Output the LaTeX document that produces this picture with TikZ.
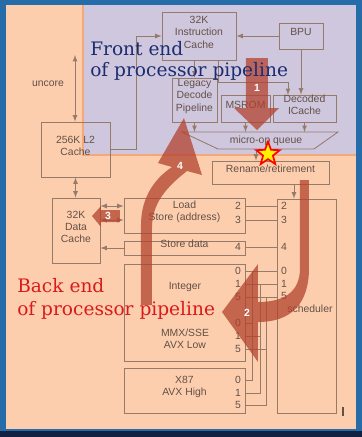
\documentclass[tikz,border=0pt]{standalone}
\usepackage{fontspec}
\setmainfont{Liberation Sans}
\newfontfamily\serifbig{DejaVu Serif}
\usetikzlibrary{shapes.geometric,fit}
\definecolor{peach}{RGB}{252,206,174}
\definecolor{lavender}{RGB}{207,199,222}
\definecolor{frameblue}{RGB}{38,108,168}
\definecolor{navy}{RGB}{18,32,66}
\definecolor{boxline}{RGB}{150,122,106}
\definecolor{boxtext}{RGB}{100,80,70}
\definecolor{bigred}{RGB}{178,66,46}
\definecolor{frontblue}{RGB}{28,44,112}
\definecolor{backred}{RGB}{218,26,26}
\definecolor{edgeorange}{RGB}{244,168,122}
\tikzset{
  unit/.style={draw=boxline, line width=0.6pt, inner sep=0pt, align=center, text=boxtext, font=\fontsize{7.4}{8.6}\selectfont},
  port/.style={inner sep=0pt, align=center, text=boxtext, font=\fontsize{7.4}{8.6}\selectfont},
  wire/.style={draw=boxline, line width=0.6pt},
  bigarrow/.style={fill=bigred, fill opacity=0.75, draw=none},
  stagenum/.style={text=white, font=\bfseries\fontsize{7.4}{8.6}\selectfont, inner sep=0pt},
  stagetitle/.style={font=\serifbig\fontsize{13.2}{15}\selectfont, inner sep=0pt, anchor=base west},
}
\begin{document}
\begin{tikzpicture}[x=0.025cm, y=-0.025cm]
            \useasboundingbox (0,0) rectangle (362,437);
            % Draw the slide frame and the two regions
            \fill[frameblue] (0,0) rectangle (362,437);
            \fill[peach] (6,5) rectangle (356,429);
            \fill[navy] (0,431) rectangle (362,437);
            \fill[lavender] (83,5) rectangle (356,155);
            \draw[edgeorange, line width=0.8pt] (83,5) -- (83,155) -- (356,155);
            % Draw front end units
            \node[unit, fit={(162,12) (236,60)}] (icache) {32K\\Instruction\\Cache};
            \node[unit, fit={(279,23) (323,49)}] (bpu) {BPU};
            \node[unit, fit={(172,78) (217,122)}] (legacy) {Legacy\\Decode\\Pipeline};
            \node[unit, fit={(221,95) (270,122)}] (msrom) {MSROM};
            \node[unit, fit={(273,95) (336,122)}] (dic) {Decoded\\ICache};
            % Draw the micro-op queue
            \coordinate (qtl) at (182,132);
            \coordinate (qtr) at (338,132);
            \coordinate (qbr) at (314,149);
            \coordinate (qbl) at (218,149);
            \draw[wire] (qtl) -- (qtr) -- (qbr) -- (qbl) -- cycle;
            \node[port] (queue) at (266,141) {micro-op queue};
            % Draw caches and back end units
            \node[unit, fit={(41,122) (110,177)}] (l2) {256K L2\\Cache};
            \node[unit, fit={(52,198) (100,263)}] (dcache) {32K\\Data\\Cache};
            \node[unit, fit={(212,161) (329,184)}] (rename) {Rename/retirement};
            \node[unit, fit={(124,198) (245,233)}] (ldst) {Load\\Store (address)};
            \node[unit, fit={(124,241) (245,255)}] (stdata) {Store data};
            \node[unit, fit={(124,264) (245,361)}] (exec) {};
            \node[port] (intlbl) at (185,287) {Integer};
            \node[port] (veclbl) at (185,339) {MMX/SSE\\AVX Low};
            \node[unit, fit={(124,368) (245,413)}] (x87) {X87\\AVX High};
            \node[unit, fit={(277,199) (336,413)}] (sched) {};
            \node[port] (schedlbl) at (310,309) {scheduler};
            \node[port] (uncore) at (48,84) {uncore};
            % Draw port numbers
            \foreach \p/\y in {2/206,3/220} \node[port] (ld\p) at (238,\y) {\p};
            \node[port] (sd4) at (238,247) {4};
            \foreach \p/\y in {0/271,1/284,5/297} \node[port] (int\p) at (238,\y) {\p};
            \foreach \p/\y in {0/323,1/336,5/349} \node[port] (vec\p) at (238,\y) {\p};
            \foreach \p/\y in {0/380,1/393,5/405} \node[port] (fp\p) at (238,\y) {\p};
            \foreach \p/\y in {2/206,3/220,4/247,0/271,1/284,5/296} \node[port] (sch\p) at (284,\y) {\p};
            % Draw front end connections
            \coordinate (uncoretop) at (75,55);
            \coordinate (l2bus) at (136,0);
            \coordinate (fillsrc) at (218,60);
            \coordinate (filldst) at (288,95);
            \draw[wire, latex-latex] (uncoretop) -- (uncoretop |- l2.north);
            \draw[wire, -latex] (l2.east) -- (l2.east -| l2bus) -- (l2bus |- icache.west) -- (icache.west);
            \draw[wire, -latex] (bpu.west) -- (icache.east);
            \draw[wire, -latex] (bpu.south) -- (bpu.south |- dic.north);
            \draw[wire, -latex] (legacy.north |- icache.south) -- (legacy.north);
            \draw[wire, -latex] (fillsrc) -- ++(0,22) -| (filldst);
            \foreach \u in {legacy,msrom,dic} \draw[wire, -latex] (\u.south) -- (\u.south |- qtl);
            \coordinate (qout) at (256,149);
            \draw[wire, -latex] (qout) -- (qout |- rename.north);
            % Draw back end connections
            \coordinate (rs) at (294,184);
            \draw[wire, -latex] (rs) -- (rs |- sched.north);
            \draw[wire, latex-latex] (l2.south) -- (l2.south |- dcache.north);
            \foreach \p in {2,3} \draw[wire, latex-latex] (dcache.east |- ld\p) -- (ldst.west |- ld\p);
            \draw[wire, -latex] (stdata.west) -- (dcache.east |- stdata.west);
            \foreach \p in {2,3} \draw[wire] (ldst.east |- ld\p) -- (sched.west |- ld\p);
            \draw[wire] (stdata.east |- sd4) -- (sched.west |- sd4);
            \foreach \p in {0,1,5} \draw[wire] (exec.east |- int\p) -- (sched.west |- int\p);
            \coordinate (bus0) at (252,0);
            \coordinate (bus1) at (260,0);
            \coordinate (bus5) at (266,0);
            \foreach \p in {0,1,5} {
              \draw[wire] (exec.east |- vec\p) -- (bus\p |- vec\p);
              \draw[wire] (x87.east |- fp\p) -- (bus\p |- fp\p) -- (bus\p |- int\p);
            }
            \coordinate (tick) at (343,407);
            \draw[boxtext, line width=0.8pt] (tick) -- ++(0,9);
            % Draw the numbered stage arrows
            \fill[bigarrow] (246,58) -- (268,58) -- (268,108) -- (279,108) -- (257,130) -- (234,108) -- (246,108) -- cycle;
            \fill[bigarrow] (300,180) -- (309,180) -- (309,268) .. controls (309,305) and (290,322) .. (258,322) -- (258,362) -- (222,312) -- (258,264) -- (258,302) .. controls (284,302) and (300,292) .. (300,268) -- cycle;
            \fill[bigarrow] (120,210) -- (120,222) -- (101,222) -- (101,227) -- (92,216) -- (101,206) -- (101,210) -- cycle;
            \fill[bigarrow] (141,305) -- (141,225) .. controls (141,195) and (157,177) .. (172,167) -- (158,163) -- (184,118) -- (202,175) -- (187,171) .. controls (168,186) and (152,202) .. (152,228) -- (152,305) -- cycle;
            \node[stagenum] (s1) at (257,88) {1};
            \node[stagenum] (s2) at (247,313) {2};
            \node[stagenum] (s3) at (108,216) {3};
            \node[stagenum] (s4) at (180,166) {4};
            \node[star, star points=5, star point ratio=2.4, minimum size=0.62cm, inner sep=0pt, fill=yellow, draw=red, line width=1.2pt] (star) at (268,154) {};
            % Draw the stage titles
            \node[stagetitle, text=frontblue] (front1) at (90,55) {Front end};
            \node[stagetitle, text=frontblue] (front2) at (90,76) {of processor pipeline};
            \node[stagetitle, text=backred] (back1) at (17,292) {Back end};
            \node[stagetitle, text=backred] (back2) at (17,315) {of processor pipeline};
        \end{tikzpicture}
\end{document}
